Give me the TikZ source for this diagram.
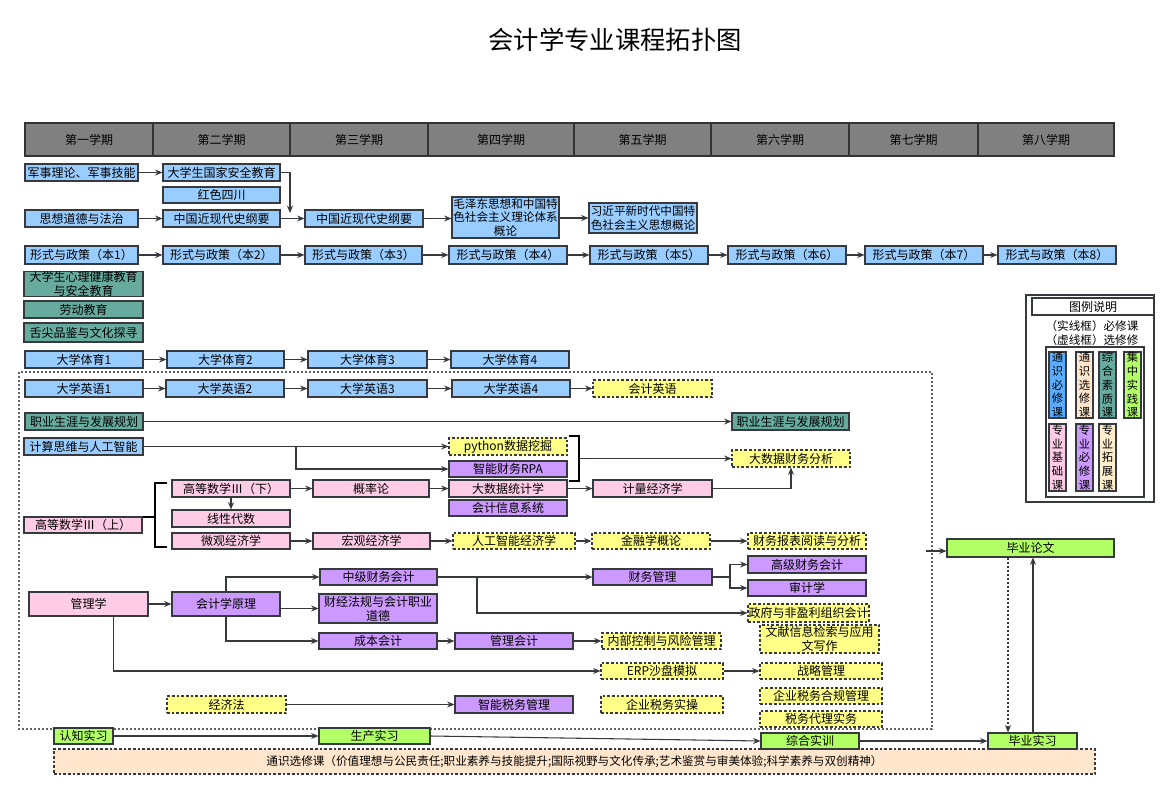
\documentclass[tikz,border=0pt]{standalone}
\usepackage{fontspec}
\setmainfont{Noto Sans CJK SC}
\usetikzlibrary{arrows.meta}
\definecolor{cblue}{HTML}{99CCFF}
\definecolor{cblueL}{HTML}{5AACFF}
\definecolor{cteal}{HTML}{67AB9F}
\definecolor{cpink}{HTML}{FFCCE6}
\definecolor{cpurple}{HTML}{CC99FF}
\definecolor{cyellow}{HTML}{FFFF88}
\definecolor{cgreen}{HTML}{B3FF66}
\definecolor{cpeach}{HTML}{FFE6CC}
\definecolor{cwheat}{HTML}{FFEECC}
\definecolor{cgray}{HTML}{808080}
\definecolor{cline}{HTML}{36393D}
\newcommand{\mybox}[7]{\node[#2, minimum width={(#5-#3)*0.75pt}, minimum height={(#6-#4)*0.75pt}] (#1) at ({(#3+#5)/2},{(#4+#6)/2}) {#7};}
\tikzset{
  base/.style={draw=cline, line width=0.8pt, inner sep=0pt, align=center, text=black, font=\fontsize{9}{10.5}\selectfont},
  small/.style={font=\fontsize{8.7}{10.2}\selectfont},
  sblue/.style={base, fill=cblue},
  steal/.style={base, fill=cteal},
  spink/.style={base, fill=cpink},
  spurple/.style={base, fill=cpurple},
  syellow/.style={base, fill=cyellow, dash pattern=on 2pt off 1.5pt},
  sgreen/.style={base, fill=cgreen},
  speach/.style={base, fill=cpeach, dash pattern=on 2pt off 1.5pt},
  shead/.style={base, fill=cgray, draw=black!80, line width=1pt},
  sframe/.style={draw=cline, line width=0.8pt, inner sep=0pt, fill=white},
  sleg/.style={base, font=\fontsize{8.5}{10.3}\selectfont},
  arr/.style={draw=cline, line width=0.8pt, -{Stealth[length=5.5pt,width=4.5pt]}},
  brk/.style={draw=black, line width=1.5pt},
}
\begin{document}
\begin{tikzpicture}[x=0.75pt,y=-0.75pt]
\useasboundingbox (0,0) rectangle (1174,809);
\node[font=\fontsize{19}{22}\selectfont] (title) at (615,40) {会计学专业课程拓扑图};
% header
\mybox{h1}{shead}{25}{123}{153}{156}{第一学期}
\mybox{h2}{shead}{153}{123}{290}{156}{第二学期}
\mybox{h3}{shead}{290}{123}{428}{156}{第三学期}
\mybox{h4}{shead}{428}{123}{574}{156}{第四学期}
\mybox{h5}{shead}{574}{123}{711}{156}{第五学期}
\mybox{h6}{shead}{711}{123}{849}{156}{第六学期}
\mybox{h7}{shead}{849}{123}{978}{156}{第七学期}
\mybox{h8}{shead}{978}{123}{1114}{156}{第八学期}
% big dotted frame
\draw[cline!80, line width=0.8pt, dash pattern=on 1.5pt off 1.5pt] (19,372) rectangle (932,729);
% general education band
\mybox{ge}{speach, small}{54}{749}{1095}{774}{通识选修课（价值理想与公民责任;职业素养与技能提升;国际视野与文化传承;艺术鉴赏与审美体验;科学素养与双创精神）}
% rows
\mybox{mil}{sblue}{25}{164}{138}{181}{军事理论、军事技能}
\mybox{safe}{sblue}{163}{164}{280}{181}{大学生国家安全教育}
\mybox{red}{sblue}{163}{187}{280}{203}{红色四川}
\mybox{moral}{sblue}{25}{210}{138}{227}{思想道德与法治}
\mybox{hist2}{sblue}{163}{210}{280}{227}{中国近现代史纲要}
\mybox{hist3}{sblue}{305}{210}{423}{227}{中国近现代史纲要}
\mybox{mao}{sblue, small}{452}{197}{559}{238}{毛泽东思想和中国特\\色社会主义理论体系\\概论}
\mybox{xi}{sblue, small}{589}{203}{697}{233}{习近平新时代中国特\\色社会主义思想概论}
\mybox{p1}{sblue}{25}{246}{138}{264}{形式与政策（本1）}
\mybox{p2}{sblue}{163}{246}{280}{264}{形式与政策（本2）}
\mybox{p3}{sblue}{305}{246}{422}{264}{形式与政策（本3）}
\mybox{p4}{sblue}{449}{246}{567}{264}{形式与政策（本4）}
\mybox{p5}{sblue}{590}{246}{708}{264}{形式与政策（本5）}
\mybox{p6}{sblue}{728}{246}{846}{264}{形式与政策（本6）}
\mybox{p7}{sblue}{865}{246}{983}{264}{形式与政策（本7）}
\mybox{p8}{sblue}{998}{246}{1116}{264}{形式与政策（本8）}
\mybox{psy}{steal}{24}{272}{143}{296}{大学生心理健康教育\\与安全教育}
\mybox{labor}{steal}{24}{301}{143}{318}{劳动教育}
\mybox{food}{steal}{24}{323}{143}{342}{舌尖品鉴与文化探寻}
\mybox{pe1}{sblue}{25}{351}{143}{368}{大学体育1}
\mybox{pe2}{sblue}{167}{351}{284}{368}{大学体育2}
\mybox{pe3}{sblue}{308}{351}{427}{368}{大学体育3}
\mybox{pe4}{sblue}{451}{351}{569}{368}{大学体育4}
\mybox{en1}{sblue}{25}{380}{143}{397}{大学英语1}
\mybox{en2}{sblue}{166}{380}{284}{397}{大学英语2}
\mybox{en3}{sblue}{308}{380}{427}{397}{大学英语3}
\mybox{en4}{sblue}{452}{380}{570}{397}{大学英语4}
\mybox{accen}{syellow}{593}{380}{712}{397}{会计英语}
\mybox{car1}{steal}{25}{413}{143}{430}{职业生涯与发展规划}
\mybox{car2}{steal}{732}{413}{849}{430}{职业生涯与发展规划}
\mybox{ct}{sblue}{24}{438}{143}{455}{计算思维与人工智能}
\mybox{py}{syellow}{449}{438}{567}{455}{python数据挖掘}
\mybox{rpa}{spurple}{449}{461}{567}{477}{智能财务RPA}
\mybox{bda}{syellow}{732}{450}{850}{467}{大数据财务分析}
\mybox{mlow}{spink}{172}{480}{290}{497}{高等数学Ⅲ（下）}
\mybox{prob}{spink}{313}{480}{429}{497}{概率论}
\mybox{bds}{spink}{449}{480}{567}{497}{大数据统计学}
\mybox{eco}{spink}{593}{480}{712}{497}{计量经济学}
\mybox{ais}{spurple}{449}{500}{567}{516}{会计信息系统}
\mybox{lin}{spink}{172}{510}{290}{527}{线性代数}
\mybox{mup}{spink}{24}{517}{142}{533}{高等数学Ⅲ（上）}
\mybox{micro}{spink}{172}{533}{290}{549}{微观经济学}
\mybox{macro}{spink}{313}{533}{430}{549}{宏观经济学}
\mybox{aie}{syellow}{453}{533}{575}{549}{人工智能经济学}
\mybox{fin}{syellow}{592}{533}{710}{549}{金融学概论}
\mybox{fsr}{syellow}{748}{533}{866}{549}{财务报表阅读与分析}
\mybox{inter}{spurple}{320}{569}{437}{585}{中级财务会计}
\mybox{fm}{spurple}{593}{569}{712}{585}{财务管理}
\mybox{adv}{spurple}{748}{556}{866}{573}{高级财务会计}
\mybox{audit}{spurple}{748}{580}{866}{596}{审计学}
\mybox{gov}{syellow}{748}{604}{869}{622}{政府与非盈利组织会计}
\mybox{lit}{syellow}{760}{625}{879}{653}{文献信息检索与应用\\文写作}
\mybox{strat}{syellow}{760}{663}{882}{679}{战略管理}
\mybox{taxc}{syellow}{760}{688}{882}{704}{企业税务合规管理}
\mybox{taxa}{syellow}{760}{711}{882}{727}{税务代理实务}
\mybox{mgmt}{spink}{29}{592}{148}{616}{管理学}
\mybox{princ}{spurple}{172}{592}{280}{616}{会计学原理}
\mybox{laws}{spurple}{319}{594}{437}{623}{财经法规与会计职业\\道德}
\mybox{cost}{spurple}{319}{633}{437}{649}{成本会计}
\mybox{macc}{spurple}{455}{633}{573}{649}{管理会计}
\mybox{ic}{syellow}{602}{633}{721}{649}{内部控制与风险管理}
\mybox{erp}{syellow}{601}{663}{723}{679}{ERP沙盘模拟}
\mybox{law}{syellow}{167}{696}{286}{713}{经济法}
\mybox{taxm}{spurple}{455}{696}{573}{713}{智能税务管理}
\mybox{taxp}{syellow}{601}{696}{723}{713}{企业税务实操}
\mybox{cog}{sgreen}{54}{728}{113}{744}{认知实习}
\mybox{prod}{sgreen}{319}{728}{430}{744}{生产实习}
\mybox{comp}{sgreen}{761}{733}{859}{749}{综合实训}
\mybox{intern}{sgreen}{988}{733}{1077}{749}{毕业实习}
\mybox{thesis}{sgreen}{947}{539}{1114}{557}{毕业论文}
% legend
\mybox{lg}{sframe}{1026}{295}{1154}{502}{}
\mybox{lgt}{base}{1032}{298}{1154}{315}{图例说明}
\node[font=\fontsize{8.7}{10.5}\selectfont, align=left, inner sep=0pt] (lgtxt) at (1092,333) {（实线框）必修课\\（虚线框）选修修};
\mybox{lgin}{sframe}{1046}{347}{1144}{497}{}
\mybox{l1}{sleg, fill=cblueL}{1049}{352}{1066}{418}{通\\识\\必\\修\\课}
\mybox{l2}{sleg, fill=cpeach}{1076}{352}{1093}{418}{通\\识\\选\\修\\课}
\mybox{l3}{sleg, fill=cteal}{1099}{352}{1116}{418}{综\\合\\素\\质\\课}
\mybox{l4}{sleg, fill=cgreen}{1124}{352}{1141}{418}{集\\中\\实\\践\\课}
\mybox{l5}{sleg, fill=cpink}{1049}{424}{1066}{491}{专\\业\\基\\础\\课}
\mybox{l6}{sleg, fill=cpurple}{1076}{424}{1093}{491}{专\\业\\必\\修\\课}
\mybox{l7}{sleg, fill=cwheat}{1099}{424}{1116}{491}{专\\业\\拓\\展\\课}
% connectors
\draw[arr] (mil) -- (safe);
\coordinate (j1) at (290,213);
\draw[arr] (safe.east) -| (j1);
\draw[arr] (moral) -- (hist2);
\draw[arr] (hist2) -- (hist3);
\draw[arr] (hist3.east) -- (hist3.east -| mao.west);
\draw[arr] (mao.east |- xi) -- (xi);
\foreach \a/\b in {p1/p2,p2/p3,p3/p4,p4/p5,p5/p6,p6/p7,p7/p8,pe1/pe2,pe2/pe3,pe3/pe4,en1/en2,en2/en3,en3/en4,en4/accen,car1/car2,mlow/prob,prob/bds,bds/eco,mlow/lin,micro/macro,macro/aie,aie/fin,fin/fsr,mgmt/princ,cost/macc,macc/ic,inter/fm,erp/strat,law/taxm,cog/prod,comp/intern}
  \draw[arr] (\a) -- (\b);
\draw[arr] (ct.east) -- (ct.east -| py.west);
\coordinate (ctb) at (296,446.5);
\draw[arr] (ctb) |- (rpa.west);
\draw[brk] (569,436) -- (579,436) -- (579,481) -- (569,481);
\coordinate (brm) at (579,458.5);
\draw[arr] (brm) -- (brm -| bda.west);
\draw[arr] (eco.east) -| (bda.south);
\draw[brk] (167,483) -- (155,483) -- (155,547) -- (167,547);
\coordinate (lbm) at (155,517);
\draw[brk] (mup.east |- lbm) -- (lbm);
\draw[arr] (princ.east |- laws) -- (laws);
\draw[arr] (princ.north) |- (inter.west);
\draw[arr] (princ.south) |- (cost.west);
\coordinate (ib) at (477,577);
\draw[arr] (ib) |- (gov.west);
\coordinate (fb) at (730,577);
\draw[draw=cline, line width=0.8pt] (fm.east) -- (fb);
\draw[arr] (fb) |- (adv.west);
\draw[arr] (fb) |- (audit.west);
\draw[arr] ([xshift=18.4pt]mgmt.south) |- (erp.west);
\draw[arr] (prod.east) -- (comp.west);
\coordinate (dr) at (926,551);
\draw[arr] (dr) -- (dr -| thesis.west);
\coordinate (xa) at (1008,0);
\coordinate (xb) at (1033,0);
\draw[arr, dash pattern=on 1.5pt off 1.5pt] (thesis.south -| xa) -- (intern.north -| xa);
\draw[arr] (intern.north -| xb) -- (thesis.south -| xb);
\end{tikzpicture}
\end{document}
